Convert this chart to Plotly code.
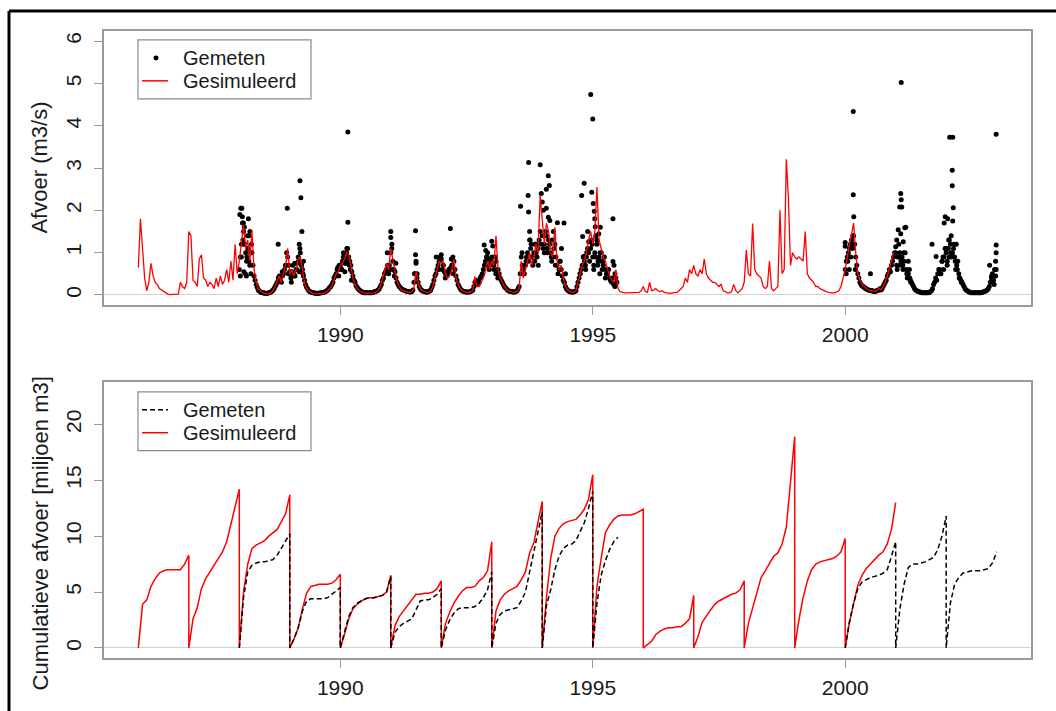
import plotly.graph_objects as go

# ---------------- data ----------------
# Simulated discharge (m3/s), half-monthly samples per year
sim_1986 = [0.65, 1.8, 1.1, 0.4, 0.1, 0.3, 0.75, 0.45, 0.3, 0.25, 0.15, 0.12, 0.08, 0.04, 0.02, 0.01, 0.01, 0.01, 0.01, 0.02, 0.3, 0.2, 0.15, 0.3]
sim_1987 = [1.5, 1.4, 0.35, 0.3, 0.2, 0.85, 0.95, 0.4, 0.35, 0.2, 0.3, 0.25, 0.15, 0.4, 0.2, 0.45, 0.25, 0.35, 0.6, 0.3, 0.8, 0.35, 1.2, 0.5]
sim_1988 = [0.8, 1.3, 1.65, 1.1, 1.3, 0.8, 1.5, 0.6, 0.3, 0.15, 0.1, 0.06, 0.03, 0.03, 0.03, 0.05, 0.1, 0.2, 0.35, 0.45, 0.3, 0.5, 0.7, 1.1]
sim_1989 = [0.5, 0.6, 0.45, 0.6, 0.85, 0.9, 0.55, 0.3, 0.15, 0.1, 0.06, 0.03, 0.03, 0.02, 0.02, 0.03, 0.04, 0.06, 0.1, 0.15, 0.2, 0.35, 0.5, 0.55]
sim_1990 = [0.7, 0.75, 0.85, 1.0, 0.95, 0.7, 0.4, 0.25, 0.15, 0.1, 0.07, 0.05, 0.04, 0.04, 0.04, 0.04, 0.05, 0.06, 0.1, 0.2, 0.35, 0.55, 0.75, 0.6]
sim_1991 = [1.1, 0.8, 0.5, 0.3, 0.2, 0.12, 0.1, 0.08, 0.07, 0.06, 0.08, 0.15, 0.55, 0.3, 0.15, 0.1, 0.07, 0.06, 0.06, 0.1, 0.2, 0.4, 0.6, 0.8]
sim_1992 = [0.75, 0.8, 0.5, 0.4, 0.45, 0.6, 0.85, 0.4, 0.25, 0.15, 0.1, 0.07, 0.06, 0.06, 0.07, 0.1, 0.44, 0.2, 0.2, 0.3, 0.4, 0.55, 0.8, 0.6]
sim_1993 = [0.8, 0.7, 1.4, 0.6, 0.4, 0.3, 0.2, 0.12, 0.1, 0.08, 0.06, 0.06, 0.08, 0.15, 0.8, 0.4, 0.6, 0.8, 1.0, 0.7, 0.9, 1.2, 1.0, 2.35]
sim_1994 = [1.8, 1.2, 1.7, 1.5, 1.0, 0.9, 1.6, 0.8, 0.6, 0.7, 0.4, 0.2, 0.12, 0.08, 0.06, 0.06, 0.1, 0.3, 0.5, 0.7, 0.8, 1.0, 1.3, 1.5]
sim_1995 = [1.2, 1.5, 2.55, 1.3, 1.1, 0.9, 0.8, 0.6, 0.45, 0.35, 0.3, 0.6, 0.15, 0.08, 0.06, 0.05, 0.05, 0.05, 0.05, 0.05, 0.05, 0.05, 0.06, 0.1]
sim_1996 = [0.2, 0.08, 0.06, 0.3, 0.1, 0.12, 0.15, 0.1, 0.08, 0.1, 0.06, 0.05, 0.04, 0.04, 0.05, 0.05, 0.06, 0.1, 0.15, 0.2, 0.4, 0.3, 0.6, 0.5]
sim_1997 = [0.7, 0.5, 0.45, 0.6, 0.5, 0.85, 0.5, 0.4, 0.35, 0.3, 0.3, 0.25, 0.2, 0.25, 0.1, 0.08, 0.05, 0.05, 0.08, 0.25, 0.1, 0.05, 0.1, 0.15]
sim_1998 = [0.3, 1.06, 0.5, 0.45, 1.69, 0.6, 0.5, 0.45, 0.4, 0.2, 0.15, 0.2, 0.8, 0.15, 0.1, 0.15, 0.2, 2.0, 0.5, 0.6, 3.21, 2.3, 0.7, 1.0]
sim_1999 = [0.9, 0.85, 0.9, 0.85, 0.8, 1.5, 0.5, 0.4, 0.35, 0.3, 0.2, 0.2, 0.15, 0.12, 0.1, 0.08, 0.06, 0.05, 0.05, 0.05, 0.08, 0.1, 0.2, 0.4]
sim_2000 = [0.6, 0.9, 1.2, 1.4, 1.7, 1.0, 0.5, 0.35, 0.25, 0.2, 0.15, 0.12, 0.1, 0.1, 0.08, 0.1, 0.15, 0.12, 0.2, 0.3, 0.45, 0.65, 0.8, 1.0]
sim_years = [1986, 1987, 1988, 1989, 1990, 1991, 1992, 1993, 1994, 1995, 1996, 1997, 1998, 1999, 2000]
sim_lists = [sim_1986, sim_1987, sim_1988, sim_1989, sim_1990, sim_1991, sim_1992, sim_1993,
             sim_1994, sim_1995, sim_1996, sim_1997, sim_1998, sim_1999, sim_2000]

# Measured discharge (m3/s): two half-monthly sample sets per year (offset by a week)
meas_1988 = [0.6, 1.2, 1.5, 1.0, 1.1, 0.7, 1.0, 0.45, 0.25, 0.12, 0.07, 0.05, 0.04, 0.04, 0.05, 0.07, 0.12, 0.2, 0.3, 0.45, 0.3, 0.5, 0.7, 0.9]
meas_1989 = [0.55, 0.55, 0.5, 0.6, 0.9, 1.0, 0.6, 0.35, 0.18, 0.1, 0.07, 0.05, 0.04, 0.04, 0.04, 0.05, 0.06, 0.08, 0.12, 0.18, 0.25, 0.4, 0.5, 0.6]
meas_1990 = [0.7, 0.8, 0.9, 1.0, 0.9, 0.7, 0.45, 0.3, 0.18, 0.12, 0.08, 0.06, 0.05, 0.05, 0.05, 0.05, 0.07, 0.09, 0.12, 0.2, 0.35, 0.5, 0.6, 0.5]
meas_1991 = [1.0, 0.8, 0.55, 0.3, 0.2, 0.15, 0.12, 0.1, 0.08, 0.07, 0.08, 0.3, 0.8, 0.3, 0.15, 0.1, 0.08, 0.07, 0.08, 0.12, 0.25, 0.45, 0.6, 0.8]
meas_1992 = [0.85, 0.7, 0.5, 0.5, 0.6, 0.7, 0.8, 0.45, 0.25, 0.15, 0.1, 0.08, 0.07, 0.07, 0.08, 0.12, 0.3, 0.25, 0.3, 0.45, 0.6, 0.8, 1.0, 0.7]
meas_1993 = [0.9, 0.7, 0.8, 0.6, 0.4, 0.3, 0.2, 0.15, 0.1, 0.08, 0.07, 0.07, 0.1, 0.2, 0.9, 0.6, 0.7, 1.0, 1.3, 0.9, 1.0, 1.2, 1.1, 1.5]
meas_1994 = [1.4, 1.2, 1.4, 1.3, 1.0, 0.9, 1.2, 0.7, 0.6, 0.6, 0.35, 0.2, 0.12, 0.08, 0.07, 0.07, 0.1, 0.3, 0.5, 0.7, 0.8, 0.9, 1.0, 1.1]
meas_1995 = [0.9, 1.0, 1.2, 0.9, 0.8, 0.7, 0.6, 0.5, 0.4, 0.3, 0.25, 0.4]
meas_2000 = [0.6, 0.9, 1.1, 1.3, 1.4, 0.9, 0.5, 0.3, 0.22, 0.18, 0.15, 0.12, 0.1, 0.1, 0.08, 0.1, 0.12, 0.12, 0.2, 0.3, 0.45, 0.6, 0.7, 0.9]
meas_2001 = [1.0, 0.9, 1.0, 0.9, 0.8, 0.6, 0.5, 0.35, 0.25, 0.15, 0.1, 0.08, 0.06, 0.05, 0.05, 0.05, 0.06, 0.1, 0.25, 0.4, 0.5, 0.6, 0.8, 0.9]
meas_2002 = [1.0, 1.1, 1.2, 1.0, 0.9, 0.7, 0.5, 0.35, 0.25, 0.15, 0.1, 0.07, 0.05, 0.05, 0.05, 0.05, 0.05, 0.06, 0.08, 0.1, 0.15, 0.3, 0.5, 0.6]
meas_b_1988 = [0.9, 1.7, 1.2, 0.8, 1.4, 0.5, 0.7, 0.35, 0.18, 0.1, 0.06, 0.05, 0.04, 0.04, 0.06, 0.09, 0.15, 0.25, 0.4, 0.35, 0.45, 0.6, 1.0, 0.7]
meas_b_1989 = [0.4, 0.7, 0.45, 0.75, 1.2, 0.7, 0.45, 0.25, 0.14, 0.08, 0.06, 0.05, 0.04, 0.04, 0.05, 0.05, 0.07, 0.1, 0.15, 0.2, 0.3, 0.45, 0.6, 0.7]
meas_b_1990 = [0.6, 1.0, 0.75, 1.1, 0.8, 0.55, 0.35, 0.22, 0.15, 0.1, 0.07, 0.05, 0.05, 0.05, 0.05, 0.06, 0.08, 0.1, 0.15, 0.25, 0.4, 0.55, 0.7, 0.6]
meas_b_1991 = [1.2, 0.6, 0.4, 0.25, 0.18, 0.13, 0.11, 0.09, 0.08, 0.07, 0.12, 0.5, 0.5, 0.2, 0.12, 0.09, 0.07, 0.07, 0.1, 0.18, 0.35, 0.5, 0.7, 0.9]
meas_b_1992 = [0.6, 0.55, 0.45, 0.55, 0.65, 0.9, 0.6, 0.35, 0.2, 0.12, 0.09, 0.07, 0.07, 0.07, 0.1, 0.2, 0.35, 0.25, 0.4, 0.5, 0.7, 0.9, 0.85, 0.8]
meas_b_1993 = [0.75, 0.9, 0.6, 0.5, 0.35, 0.25, 0.17, 0.12, 0.09, 0.08, 0.07, 0.08, 0.15, 0.5, 0.7, 0.5, 0.9, 0.8, 1.1, 0.7, 1.2, 0.9, 1.3, 1.2]
meas_b_1994 = [1.1, 1.5, 1.0, 1.2, 0.8, 1.1, 0.9, 0.5, 0.8, 0.45, 0.3, 0.15, 0.1, 0.07, 0.07, 0.08, 0.2, 0.4, 0.6, 0.9, 0.7, 1.1, 0.8, 1.3]
meas_b_1995 = [0.7, 1.4, 0.8, 1.0, 0.6, 0.9, 0.5, 0.6, 0.35, 0.4, 0.2, 0.3]
meas_b_2000 = [0.8, 1.0, 1.2, 1.1, 1.2, 0.7, 0.4, 0.25, 0.2, 0.16, 0.13, 0.11, 0.1, 0.09, 0.09, 0.11, 0.15, 0.15, 0.25, 0.35, 0.5, 0.55, 0.8, 1.0]
meas_b_2001 = [0.7, 1.2, 0.8, 0.6, 1.0, 0.4, 0.6, 0.3, 0.2, 0.12, 0.09, 0.07, 0.05, 0.05, 0.05, 0.05, 0.08, 0.15, 0.3, 0.35, 0.6, 0.5, 0.9, 1.1]
meas_b_2002 = [0.8, 1.3, 0.9, 1.1, 0.6, 0.8, 0.4, 0.3, 0.2, 0.12, 0.08, 0.06, 0.05, 0.05, 0.05, 0.05, 0.05, 0.07, 0.09, 0.12, 0.2, 0.4, 0.35, 0.8]
meas_years = [1988, 1989, 1990, 1991, 1992, 1993, 1994, 1995, 2000, 2001, 2002]
meas_lists = [meas_1988, meas_1989, meas_1990, meas_1991, meas_1992, meas_1993, meas_1994,
              meas_1995, meas_2000, meas_2001, meas_2002]
meas_b_lists = [meas_b_1988, meas_b_1989, meas_b_1990, meas_b_1991, meas_b_1992, meas_b_1993,
                meas_b_1994, meas_b_1995, meas_b_2000, meas_b_2001, meas_b_2002]

# Individual measured days (peaks and scattered winter values)
extra_t = [1988.01, 1988.03, 1988.05, 1988.06, 1988.08, 1988.10, 1988.12, 1988.14, 1988.18, 1988.21, 1988.24, 1988.15,
           1988.77, 1988.95, 1988.92, 1988.85, 1988.02, 1988.04, 1988.07, 1988.09, 1988.11, 1988.16, 1988.19, 1988.22,
           1989.20, 1989.22, 1989.24, 1989.20, 1989.17, 1989.27, 1989.10, 1988.97, 1989.03, 1989.06, 1989.14, 1989.19,
           1989.23, 1989.26,
           1990.15, 1990.15, 1990.13, 1990.10, 1989.95, 1990.20, 1989.97, 1990.03, 1990.06, 1990.09, 1990.12, 1990.18, 1990.22,
           1990.93, 1991.00, 1991.00, 1991.02, 1991.10, 1991.49, 1991.49, 1991.50, 1991.90, 1990.97, 1991.04, 1991.07,
           1991.47, 1991.52, 1991.95,
           1992.00, 1992.18, 1992.20, 1992.22, 1992.85, 1992.88, 1992.90, 1992.03, 1992.08, 1992.15, 1992.24, 1992.93, 1992.95,
           1993.00, 1993.02, 1993.05, 1993.57, 1993.60, 1993.73, 1993.72, 1993.73, 1993.75, 1993.76, 1993.78, 1993.96,
           1993.98, 1994.00, 1994.02, 1993.85, 1993.04, 1993.08, 1993.12, 1993.62, 1993.68, 1993.80, 1993.88, 1993.92,
           1994.08, 1994.12, 1994.14, 1994.08, 1994.12, 1994.15, 1994.30, 1994.43, 1994.20, 1994.78, 1994.83, 1994.80,
           1994.82, 1994.90, 1994.92, 1994.04, 1994.10, 1994.18, 1994.22, 1994.26, 1994.35, 1994.38, 1994.46, 1994.75,
           1994.86, 1994.88,
           1994.96, 1995.00, 1994.98, 1995.01, 1995.03, 1995.04, 1995.05, 1995.15, 1995.12, 1995.17, 1995.40, 1995.40,
           1995.42, 1994.99, 1995.02, 1995.06, 1995.08, 1995.10, 1995.14, 1995.20, 1995.25, 1995.30, 1995.35, 1995.44,
           2000.00, 2000.00, 2000.16, 2000.16, 2000.17, 2000.15, 2000.13, 2000.50, 2000.02, 2000.05, 2000.08, 2000.11, 2000.20,
           2001.11, 2001.10, 2001.11, 2001.08, 2001.12, 2001.05, 2001.20, 2001.10, 2001.15, 2001.18, 2001.00, 2001.02,
           2001.72, 2001.80, 2001.03, 2001.06, 2001.09, 2001.14, 2001.16, 2001.22, 2001.25, 2001.28, 2001.30,
           2002.07, 2002.13, 2002.12, 2002.12, 2002.14, 2001.98, 2002.03, 2002.13, 2001.96, 2002.20, 2002.10, 2002.05,
           2001.88, 2001.92, 2001.95, 2002.00, 2002.02, 2002.06, 2002.09, 2002.15, 2002.18, 2002.22, 2002.26, 2002.30,
           2002.99, 2002.99, 2002.99, 2002.99, 2002.98, 2002.86, 2002.90, 2002.92, 2002.95]
extra_q = [1.9, 2.05, 2.05, 1.85, 1.7, 1.6, 0.5, 0.45, 1.8, 1.5, 1.2, 0.9,
           1.2, 2.05, 0.7, 0.55, 0.45, 0.9, 1.3, 0.55, 1.2, 1.4, 0.8, 1.0,
           2.7, 2.3, 1.5, 1.1, 0.8, 0.8, 0.75, 0.5, 0.3, 0.45, 0.6, 0.55,
           0.7, 0.5,
           3.85, 1.72, 1.1, 0.75, 0.65, 0.6, 0.45, 0.6, 0.9, 0.55, 0.8, 0.7, 0.35,
           1.0, 1.5, 1.36, 1.1, 0.75, 1.52, 0.95, 0.75, 0.9, 0.7, 0.6, 0.45,
           0.5, 0.4, 0.6,
           0.95, 1.57, 0.85, 0.7, 1.18, 1.05, 0.9, 0.6, 0.4, 0.6, 0.5, 0.7, 0.6,
           1.27, 1.16, 0.9, 2.1, 1.0, 3.13, 2.35, 1.96, 1.5, 1.3, 1.2, 3.08,
           2.4, 2.2, 2.0, 0.8, 0.6, 0.5, 0.4, 0.5, 0.8, 0.9, 1.0, 0.7,
           2.5, 2.82, 2.59, 2.05, 1.84, 1.76, 1.71, 1.7, 1.3, 2.35, 2.64, 1.38,
           0.91, 1.5, 1.26, 1.0, 1.1, 0.9, 1.5, 0.7, 0.8, 1.1, 0.5, 0.5,
           0.6, 1.0,
           4.74, 4.16, 2.43, 2.16, 1.98, 1.8, 1.61, 1.6, 1.45, 1.0, 1.8, 0.79,
           0.7, 1.2, 0.6, 0.9, 1.3, 0.7, 0.5, 0.8, 0.4, 0.6, 0.35, 0.5,
           1.24, 1.15, 4.34, 2.37, 1.85, 1.4, 1.2, 0.5, 0.5, 0.8, 0.6, 0.9, 0.6,
           5.02, 2.4, 2.25, 2.08, 2.08, 1.54, 1.6, 1.45, 1.26, 1.59, 1.14, 1.3,
           1.2, 0.91, 0.6, 0.9, 0.7, 0.7, 1.0, 0.5, 0.8, 0.4, 0.3,
           3.73, 3.73, 2.95, 2.58, 2.06, 1.85, 1.8, 1.75, 1.7, 1.2, 1.4, 1.3,
           0.5, 0.8, 0.6, 1.1, 0.7, 0.9, 1.0, 1.2, 0.8, 0.6, 0.4, 0.3,
           3.8, 1.18, 1.0, 0.6, 0.45, 0.7, 0.45, 0.3, 0.25]

# Cumulative discharge per calendar year (miljoen m3), monthly (13 values: Jan 1 .. Dec 31)
cum_sim_1986 = [0, 3.9, 4.3, 5.5, 6.2, 6.7, 6.9, 7.0, 7.0, 7.0, 7.0, 7.5, 8.3]
cum_sim_1987 = [0, 2.6, 3.6, 5.3, 6.2, 6.8, 7.3, 8.0, 8.6, 9.5, 11.0, 12.5, 14.2]
cum_sim_1988 = [0, 5.0, 7.5, 8.9, 9.2, 9.4, 9.6, 10.0, 10.3, 10.6, 11.3, 12.0, 13.7]
cum_sim_1989 = [0, 0.8, 1.8, 3.5, 4.9, 5.5, 5.6, 5.7, 5.7, 5.7, 5.8, 6.1, 6.6]
cum_sim_1990 = [0, 1.2, 2.6, 3.5, 3.9, 4.2, 4.4, 4.5, 4.5, 4.6, 4.7, 5.0, 6.5]
cum_sim_1991 = [0, 2.0, 2.8, 3.3, 3.9, 4.3, 4.8, 4.8, 4.9, 4.9, 5.0, 5.3, 6.0]
cum_sim_1992 = [0, 2.2, 3.2, 4.0, 4.6, 5.1, 5.4, 5.4, 5.5, 6.0, 6.3, 6.9, 9.5]
cum_sim_1993 = [0, 3.3, 4.3, 4.8, 5.1, 5.3, 5.5, 6.1, 6.8, 8.5, 9.4, 11.3, 13.1]
cum_sim_1994 = [0, 4.5, 8.0, 10.0, 10.7, 11.1, 11.3, 11.4, 11.5, 11.9, 12.4, 13.3, 15.5]
cum_sim_1995 = [0, 5.5, 8.0, 10.3, 11.0, 11.5, 11.8, 11.9, 11.9, 11.9, 12.0, 12.2, 12.4]
cum_sim_1996 = [0, 0.3, 0.6, 1.2, 1.5, 1.7, 1.8, 1.8, 1.9, 1.9, 2.2, 2.6, 4.7]
cum_sim_1997 = [0, 1.0, 2.3, 2.9, 3.4, 3.9, 4.2, 4.4, 4.6, 4.8, 4.9, 5.2, 6.0]
cum_sim_1998 = [0, 2.2, 3.6, 5.0, 6.3, 6.9, 7.5, 8.2, 8.5, 9.3, 10.8, 15.0, 18.9]
cum_sim_1999 = [0, 2.5, 4.5, 6.0, 7.0, 7.5, 7.7, 7.8, 7.9, 8.0, 8.2, 8.6, 9.8]
cum_sim_2000 = [0, 2.3, 4.0, 5.6, 6.5, 7.1, 7.5, 7.9, 8.3, 8.6, 9.3, 10.6, 13.0]
cum_sim_lists = [cum_sim_1986, cum_sim_1987, cum_sim_1988, cum_sim_1989, cum_sim_1990,
                 cum_sim_1991, cum_sim_1992, cum_sim_1993, cum_sim_1994, cum_sim_1995,
                 cum_sim_1996, cum_sim_1997, cum_sim_1998, cum_sim_1999, cum_sim_2000]

cum_meas_1988 = [0, 4.5, 6.8, 7.4, 7.6, 7.7, 7.7, 7.8, 7.9, 8.3, 8.9, 9.5, 10.2]
cum_meas_1989 = [0, 0.8, 1.8, 3.3, 4.2, 4.4, 4.4, 4.4, 4.4, 4.5, 4.8, 5.1, 5.4]
cum_meas_1990 = [0, 1.3, 2.8, 3.6, 4.0, 4.2, 4.4, 4.5, 4.5, 4.6, 4.7, 5.0, 6.4]
cum_meas_1991 = [0, 1.4, 1.9, 2.2, 2.4, 2.6, 3.4, 4.2, 4.3, 4.3, 4.5, 4.8, 5.3]
cum_meas_1992 = [0, 1.6, 2.5, 3.1, 3.5, 3.6, 3.6, 3.6, 3.7, 4.0, 4.5, 5.2, 6.8]
cum_meas_1993 = [0, 2.2, 3.0, 3.3, 3.4, 3.5, 3.6, 4.2, 5.0, 6.8, 8.5, 10.2, 12.2]
cum_meas_1994 = [0, 3.8, 5.2, 7.0, 8.2, 8.9, 9.2, 9.3, 9.6, 10.4, 11.2, 12.5, 14.0]
cum_meas_1995 = [0, 4.0, 6.5, 7.8, 8.8, 9.5, 9.9]
cum_meas_2000 = [0, 2.3, 4.0, 5.3, 5.9, 6.1, 6.3, 6.4, 6.5, 6.7, 7.0, 8.2, 9.5]
cum_meas_2001 = [0, 3.5, 5.7, 7.2, 7.5, 7.5, 7.6, 7.7, 7.9, 8.1, 8.8, 10.0, 11.8]
cum_meas_2002 = [0, 4.0, 5.7, 6.3, 6.7, 6.8, 6.9, 6.9, 6.9, 7.0, 7.1, 7.6, 8.6]
cum_meas_years = [1988, 1989, 1990, 1991, 1992, 1993, 1994, 1995, 2000, 2001, 2002]
cum_meas_lists = [cum_meas_1988, cum_meas_1989, cum_meas_1990, cum_meas_1991, cum_meas_1992,
                  cum_meas_1993, cum_meas_1994, cum_meas_1995, cum_meas_2000, cum_meas_2001, cum_meas_2002]

x_ticks = [1990, 1995, 2000]
y1_ticks = [0, 1, 2, 3, 4, 5, 6]
y2_ticks = [0, 5, 10, 15, 20]

# ---------------- build series ----------------
sim_t, sim_q = [], []
for yr, vals in zip(sim_years, sim_lists):
    for i, v in enumerate(vals):
        sim_t.append(yr + i / 24)
        sim_q.append(v)

meas_t, meas_q = [], []
for yr, vals in zip(meas_years, meas_lists):
    for i, v in enumerate(vals):
        meas_t.append(yr + i / 24)
        meas_q.append(v)
for yr, vals in zip(meas_years, meas_b_lists):
    for i, v in enumerate(vals):
        meas_t.append(yr + (i + 0.5) / 24)
        meas_q.append(v)
meas_t += extra_t
meas_q += extra_q

cs_t, cs_q = [], []
for yr, vals in zip(sim_years, cum_sim_lists):
    for i, v in enumerate(vals):
        cs_t.append(yr + i / 12)
        cs_q.append(v)

cm_t, cm_q = [], []
prev = None
for yr, vals in zip(cum_meas_years, cum_meas_lists):
    if prev is not None and yr - prev > 1:
        cm_t.append(None)
        cm_q.append(None)
    for i, v in enumerate(vals):
        cm_t.append(yr + i / 12)
        cm_q.append(v)
    prev = yr

# ---------------- layout helpers (pixel -> paper) ----------------
W, H = 1056, 711
ML, MR, MT, MB = 104, 25, 31, 51
PW, PH = W - ML - MR, H - MT - MB


def px2x(px):
    return (px - ML) / PW


def py2y(py):
    return (H - MB - py) / PH


FONT = "Liberation Sans, Arial, sans-serif"
TXT = "#1a1a1a"
AX = "#9a9a9a"

fig = go.Figure()
fig.add_trace(go.Scatter(x=meas_t, y=meas_q, mode="markers", name="Gemeten",
                         marker=dict(color="black", size=5, line=dict(width=0)),
                         xaxis="x", yaxis="y", showlegend=False))
fig.add_trace(go.Scatter(x=sim_t, y=sim_q, mode="lines", name="Gesimuleerd",
                         line=dict(color="red", width=1.3),
                         xaxis="x", yaxis="y", showlegend=False))
fig.add_trace(go.Scatter(x=cs_t, y=cs_q, mode="lines", name="Gesimuleerd",
                         line=dict(color="red", width=1.5),
                         xaxis="x2", yaxis="y2", showlegend=False))
fig.add_trace(go.Scatter(x=cm_t, y=cm_q, mode="lines", name="Gemeten",
                         line=dict(color="black", width=1.5, dash="5px,3px"),
                         connectgaps=False, xaxis="x2", yaxis="y2", showlegend=False))

axis_common = dict(showgrid=False, showline=True, mirror=True, linecolor=AX, linewidth=1.5,
                   ticks="outside", ticklen=8, tickcolor=AX, tickwidth=1.2,
                   tickfont=dict(family=FONT, size=21, color=TXT))

fig.update_layout(
    width=W, height=H,
    margin=dict(l=ML, r=MR, t=MT, b=MB),
    paper_bgcolor="white", plot_bgcolor="white",
    font=dict(family=FONT, color=TXT, size=21),
    xaxis=dict(domain=[0, 1], anchor="y", range=[1985.32, 2003.68], tickmode="array",
               tickvals=x_ticks, zeroline=False, ticklabelstandoff=2, **axis_common),
    yaxis=dict(domain=[py2y(306), 1], anchor="x", range=[-0.24, 6.24], tickmode="array",
               tickvals=y1_ticks, tickangle=-90, zeroline=True, zerolinecolor="#d0d0d0",
               zerolinewidth=1, ticklabelstandoff=5, **axis_common),
    xaxis2=dict(domain=[0, 1], anchor="y2", range=[1985.32, 2003.68], tickmode="array",
                tickvals=x_ticks, zeroline=False, ticklabelstandoff=2, **axis_common),
    yaxis2=dict(domain=[0, py2y(383)], anchor="x2", range=[-0.9, 23.8], tickmode="array",
                tickvals=y2_ticks, tickangle=-90, zeroline=True, zerolinecolor="#d0d0d0",
                zerolinewidth=1, ticklabelstandoff=5, **axis_common),
)

shapes = []
# outer frame (top and left edges visible)
shapes.append(dict(type="line", xref="paper", yref="paper", x0=px2x(9), x1=px2x(1070),
                   y0=py2y(11), y1=py2y(11), line=dict(color="black", width=3)))
shapes.append(dict(type="line", xref="paper", yref="paper", x0=px2x(9), x1=px2x(9),
                   y0=py2y(11), y1=py2y(720), line=dict(color="black", width=3)))

LEG_FONT = 20


def legend(top, first_dashed):
    box_l, box_r = 138, 311
    shapes.append(dict(type="rect", xref="paper", yref="paper", x0=px2x(box_l), x1=px2x(box_r),
                       y0=py2y(top), y1=py2y(top + 59), line=dict(color="#8a8a8a", width=1.2),
                       fillcolor="white", layer="above"))
    r1, r2 = top + 18, top + 41
    if first_dashed:
        shapes.append(dict(type="line", xref="paper", yref="paper", x0=px2x(142), x1=px2x(168),
                           y0=py2y(r1), y1=py2y(r1), line=dict(color="black", width=1.5, dash="5px,3px")))
    else:
        shapes.append(dict(type="circle", xref="paper", yref="paper", x0=px2x(153.5), x1=px2x(158.5),
                           y0=py2y(r1 - 2.5), y1=py2y(r1 + 2.5), fillcolor="black",
                           line=dict(color="black", width=0)))
    shapes.append(dict(type="line", xref="paper", yref="paper", x0=px2x(142), x1=px2x(168),
                       y0=py2y(r2), y1=py2y(r2), line=dict(color="red", width=1.5)))
    ann = []
    for txt, r in (("Gemeten", r1), ("Gesimuleerd", r2)):
        ann.append(dict(xref="paper", yref="paper", x=px2x(182), y=py2y(r), text=txt,
                        showarrow=False, xanchor="left", yanchor="middle", borderpad=0,
                        font=dict(family=FONT, size=LEG_FONT, color=TXT)))
    return ann


annotations = []
annotations += legend(40, False)
annotations += legend(393, True)
annotations.append(dict(xref="paper", yref="paper", x=px2x(40), y=py2y(168), text="Afvoer (m3/s)",
                        textangle=-90, showarrow=False, xanchor="center", yanchor="middle",
                        font=dict(family=FONT, size=22, color=TXT)))
annotations.append(dict(xref="paper", yref="paper", x=px2x(40), y=py2y(535),
                        text="Cumulatieve afvoer [miljoen m3]",
                        textangle=-90, showarrow=False, xanchor="center", yanchor="middle",
                        font=dict(family=FONT, size=22, color=TXT)))

fig.update_layout(shapes=shapes, annotations=annotations)
fig.write_html("out.html")
